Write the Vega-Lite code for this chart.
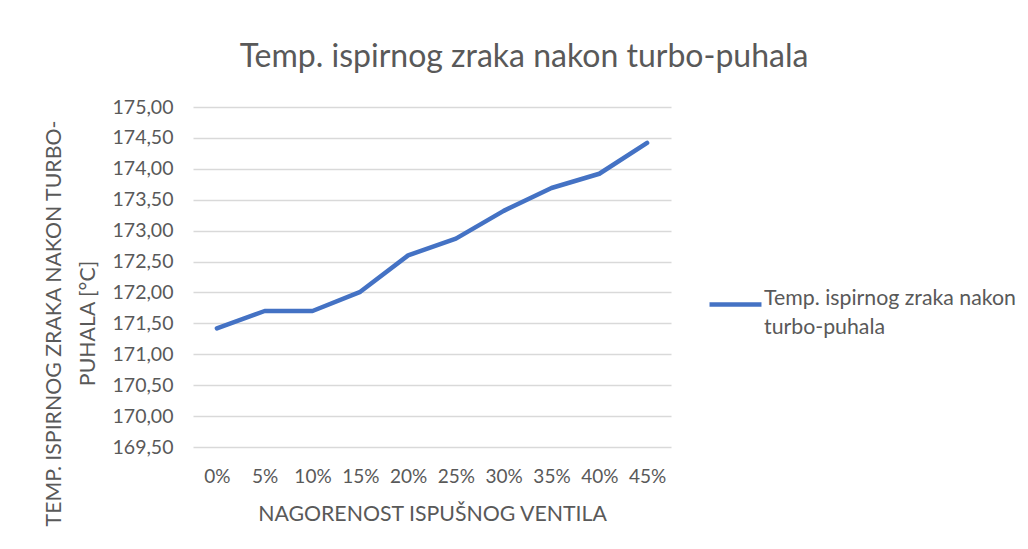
{
  "$schema": "https://vega.github.io/schema/vega-lite/v6.json",
  "width": 478,
  "height": 340,
  "autosize": {"type": "none"},
  "padding": {"left": 193, "top": 107, "right": 357, "bottom": 102},
  "background": "white",
  "title": {
    "text": "Temp. ispirnog zraka nakon turbo-puhala",
    "font": "Lato",
    "fontSize": 32,
    "fontWeight": "normal",
    "color": "#595959",
    "anchor": "middle",
    "dx": 92,
    "offset": 23
  },
  "data": {
    "values": [
      {"x": "0%", "t": 171.42, "s": "Temp. ispirnog zraka nakon turbo-puhala"},
      {"x": "5%", "t": 171.70, "s": "Temp. ispirnog zraka nakon turbo-puhala"},
      {"x": "10%", "t": 171.70, "s": "Temp. ispirnog zraka nakon turbo-puhala"},
      {"x": "15%", "t": 172.01, "s": "Temp. ispirnog zraka nakon turbo-puhala"},
      {"x": "20%", "t": 172.60, "s": "Temp. ispirnog zraka nakon turbo-puhala"},
      {"x": "25%", "t": 172.87, "s": "Temp. ispirnog zraka nakon turbo-puhala"},
      {"x": "30%", "t": 173.32, "s": "Temp. ispirnog zraka nakon turbo-puhala"},
      {"x": "35%", "t": 173.69, "s": "Temp. ispirnog zraka nakon turbo-puhala"},
      {"x": "40%", "t": 173.92, "s": "Temp. ispirnog zraka nakon turbo-puhala"},
      {"x": "45%", "t": 174.42, "s": "Temp. ispirnog zraka nakon turbo-puhala"}
    ]
  },
  "mark": {"type": "line", "strokeWidth": 4.5, "strokeCap": "round", "strokeJoin": "round"},
  "encoding": {
    "x": {
      "field": "x",
      "type": "ordinal",
      "sort": null,
      "scale": {"type": "point", "padding": 0.5},
      "axis": {
        "title": "NAGORENOST ISPUŠNOG VENTILA",
        "labelAngle": 0,
        "domain": false,
        "ticks": false,
        "grid": false,
        "labelPadding": 20,
        "titlePadding": 17
      }
    },
    "y": {
      "field": "t",
      "type": "quantitative",
      "scale": {"domain": [169.5, 175], "zero": false, "nice": false},
      "axis": {
        "title": ["TEMP. ISPIRNOG ZRAKA NAKON TURBO-", "PUHALA [°C]"],
        "values": [169.5, 170, 170.5, 171, 171.5, 172, 172.5, 173, 173.5, 174, 174.5, 175],
        "labelExpr": "replace(format(datum.value, '.2f'), '.', ',')",
        "domain": false,
        "ticks": false,
        "labelPadding": 20,
        "labelFontSize": 19.5,
        "titleLineHeight": 34,
        "titleY": 216,
        "titleX": -129,
        "titleAngle": -90,
        "titleAlign": "center"
      }
    },
    "color": {
      "field": "s",
      "type": "nominal",
      "scale": {"range": ["#4472C4"]},
      "legend": {
        "title": null,
        "orient": "none",
        "legendX": 514,
        "legendY": 169,
        "symbolType": "stroke",
        "symbolSize": 2700,
        "symbolStrokeWidth": 4.5,
        "labelExpr": "['Temp. ispirnog zraka nakon', 'turbo-puhala']",
        "labelLimit": 400,
        "labelOffset": 0,
        "labelBaseline": "alphabetic"
      }
    }
  },
  "config": {
    "view": {"stroke": null},
    "font": "Lato",
    "style": {"guide-label": {"lineHeight": 29}},
    "axis": {
      "labelFont": "Lato",
      "titleFont": "Lato",
      "labelFontSize": 19,
      "titleFontSize": 21.3,
      "labelColor": "#595959",
      "titleColor": "#595959",
      "titleFontWeight": "normal",
      "gridColor": "#D9D9D9",
      "gridWidth": 1.5
    },
    "legend": {
      "labelFont": "Lato",
      "labelFontSize": 21.3,
      "labelColor": "#595959"
    }
  }
}
